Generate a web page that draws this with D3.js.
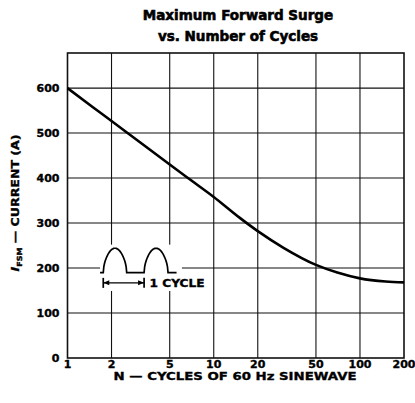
<!DOCTYPE html>
<html><head><meta charset="utf-8">
<script src="https://cdn.jsdelivr.net/npm/d3@7"></script>
<style>body{margin:0;background:#fff} svg{display:block}</style>
</head><body><svg id="c" width="415" height="403"></svg>
<script>
// ---- data ----
const cycles  = [1, 1.5, 2, 3, 5, 7, 10, 15, 20, 30, 50, 70, 100, 150, 200];
const current = [600, 557, 527, 484, 430, 395, 358, 312, 282, 245, 207, 190, 177, 170, 168];
const xTicks = [1, 2, 5, 10, 20, 50, 100, 200];
const yTicks = [0, 100, 200, 300, 400, 500, 600];
const titleLines = ["Maximum Forward Surge", "vs. Number of Cycles"];
const xTitle = "N — CYCLES OF 60 Hz SINEWAVE";
const yTitleMain = "I", yTitleSub = "FSM", yTitleRest = " — CURRENT (A)";
// inset "1 cycle" sketch, in data units
const humpStarts = [1.756, 3.34];
const humpEnds   = [2.54, 4.87];
const waveFrom = 1.67, waveTo = 5.57, waveBase = 190, wavePeak = 244;
const arrowFrom = 1.756, arrowTo = 3.34, arrowLevel = 167;
const insetLabel = "1 CYCLE", insetLabelN = 3.64, insetLabelV = 157;
const insetBox = {n0: 1.67, n1: 6.06, v0: 149, v1: 252};

// ---- layout ----
const svg = d3.select("#c");
const x = d3.scaleLog().domain([1, 200]).range([67.5, 404]);
const y = d3.scaleLinear().domain([0, 678]).range([358, 53]);
const font = "'DejaVu Sans', 'Liberation Sans', Arial, sans-serif";

// gridlines
const g = svg.append("g");
g.selectAll("line.v").data(xTicks.slice(1, -1)).join("line")
  .attr("x1", d => x(d)).attr("x2", d => x(d))
  .attr("y1", y(0)).attr("y2", y(678))
  .attr("stroke", "#111").attr("stroke-width", 1.1);
g.selectAll("line.h").data(yTicks.slice(1)).join("line")
  .attr("x1", x(1)).attr("x2", x(200))
  .attr("y1", d => y(d)).attr("y2", d => y(d))
  .attr("stroke", "#111").attr("stroke-width", 1.1);

// inset white box
svg.append("rect")
  .attr("x", x(insetBox.n0)).attr("y", y(insetBox.v1))
  .attr("width", x(insetBox.n1) - x(insetBox.n0))
  .attr("height", y(insetBox.v0) - y(insetBox.v1))
  .attr("fill", "#fff");

// border
svg.append("rect")
  .attr("x", x(1)).attr("y", y(678))
  .attr("width", x(200) - x(1)).attr("height", y(0) - y(678))
  .attr("fill", "none").attr("stroke", "#111").attr("stroke-width", 1.6);

// curve
const line = d3.line().x((d, i) => x(cycles[i])).y((d, i) => y(current[i])).curve(d3.curveMonotoneX);
svg.append("path").datum(current).attr("d", line)
  .attr("fill", "none").attr("stroke", "#000").attr("stroke-width", 2.6);

// inset waveform
const pts = [];
pts.push([x(waveFrom), y(waveBase)]);
humpStarts.forEach((s, k) => {
  const xs = x(s), xe = x(humpEnds[k]);
  const h = y(waveBase) - y(wavePeak);
  d3.range(0, 41).forEach(j => {
    const t = j / 40 * Math.PI;
    const sv = Math.pow(Math.sin(t), 0.55);
    pts.push([xs + (xe - xs) * j / 40, y(waveBase) - h * sv]);
  });
});
pts.push([x(waveTo), y(waveBase)]);
svg.append("path").attr("d", d3.line()(pts))
  .attr("fill", "none").attr("stroke", "#000").attr("stroke-width", 1.7);

// arrow
const ay = y(arrowLevel), ax0 = x(arrowFrom), ax1 = x(arrowTo);
svg.append("line").attr("x1", ax0).attr("x2", ax1).attr("y1", ay).attr("y2", ay)
  .attr("stroke", "#000").attr("stroke-width", 1.4);
[ax0, ax1].forEach(v => svg.append("line").attr("x1", v).attr("x2", v)
  .attr("y1", ay - 5).attr("y2", ay + 5).attr("stroke", "#000").attr("stroke-width", 1.7));
svg.append("path").attr("d", `M${ax0},${ay}l6,-2.5v5z M${ax1},${ay}l-6,-2.5v5z`).attr("fill", "#000");
svg.append("text").attr("x", x(insetLabelN)).attr("y", y(insetLabelV))
  .attr("font-family", font).attr("font-weight", "bold").attr("font-size", 10.5)
  .attr("stroke", "#000").attr("stroke-width", 0.35)
  .attr("textLength", 55).attr("lengthAdjust", "spacingAndGlyphs")
  .text(insetLabel);

// axis tick labels
svg.selectAll("text.xt").data(xTicks).join("text")
  .attr("x", d => x(d)).attr("y", 368).attr("text-anchor", "middle")
  .attr("font-family", font).attr("font-weight", "bold").attr("font-size", 11)
  .attr("stroke", "#000").attr("stroke-width", 0.35)
  .text(d => d);
svg.selectAll("text.yt").data(yTicks).join("text")
  .attr("x", 59.5).attr("y", d => y(d) + 4).attr("text-anchor", "end")
  .attr("font-family", font).attr("font-weight", "bold").attr("font-size", 11)
  .attr("stroke", "#000").attr("stroke-width", 0.35)
  .text(d => d);

// titles
svg.selectAll("text.title").data(titleLines).join("text")
  .attr("x", 238).attr("y", (d, i) => 20 + i * 21).attr("text-anchor", "middle")
  .attr("font-family", font).attr("font-weight", "bold").attr("font-size", 13.5)
  .attr("stroke", "#000").attr("stroke-width", 0.6)
  .text(d => d);
svg.append("text").attr("x", 235).attr("y", 380).attr("text-anchor", "middle")
  .attr("font-family", font).attr("font-weight", "bold").attr("font-size", 11)
  .attr("stroke", "#000").attr("stroke-width", 0.35)
  .attr("textLength", 243).attr("lengthAdjust", "spacingAndGlyphs")
  .text(xTitle);
const yt = svg.append("text").attr("transform", "translate(18.5,203) rotate(-90)")
  .attr("text-anchor", "middle")
  .attr("font-family", font).attr("font-weight", "bold").attr("font-size", 11)
  .attr("stroke", "#000").attr("stroke-width", 0.35)
  .attr("textLength", 137).attr("lengthAdjust", "spacingAndGlyphs");
yt.append("tspan").attr("font-style", "italic").text(yTitleMain);
yt.append("tspan").attr("font-size", 7).attr("dy", 3).text(yTitleSub);
yt.append("tspan").attr("dy", -3).text(yTitleRest);
</script></body></html>
